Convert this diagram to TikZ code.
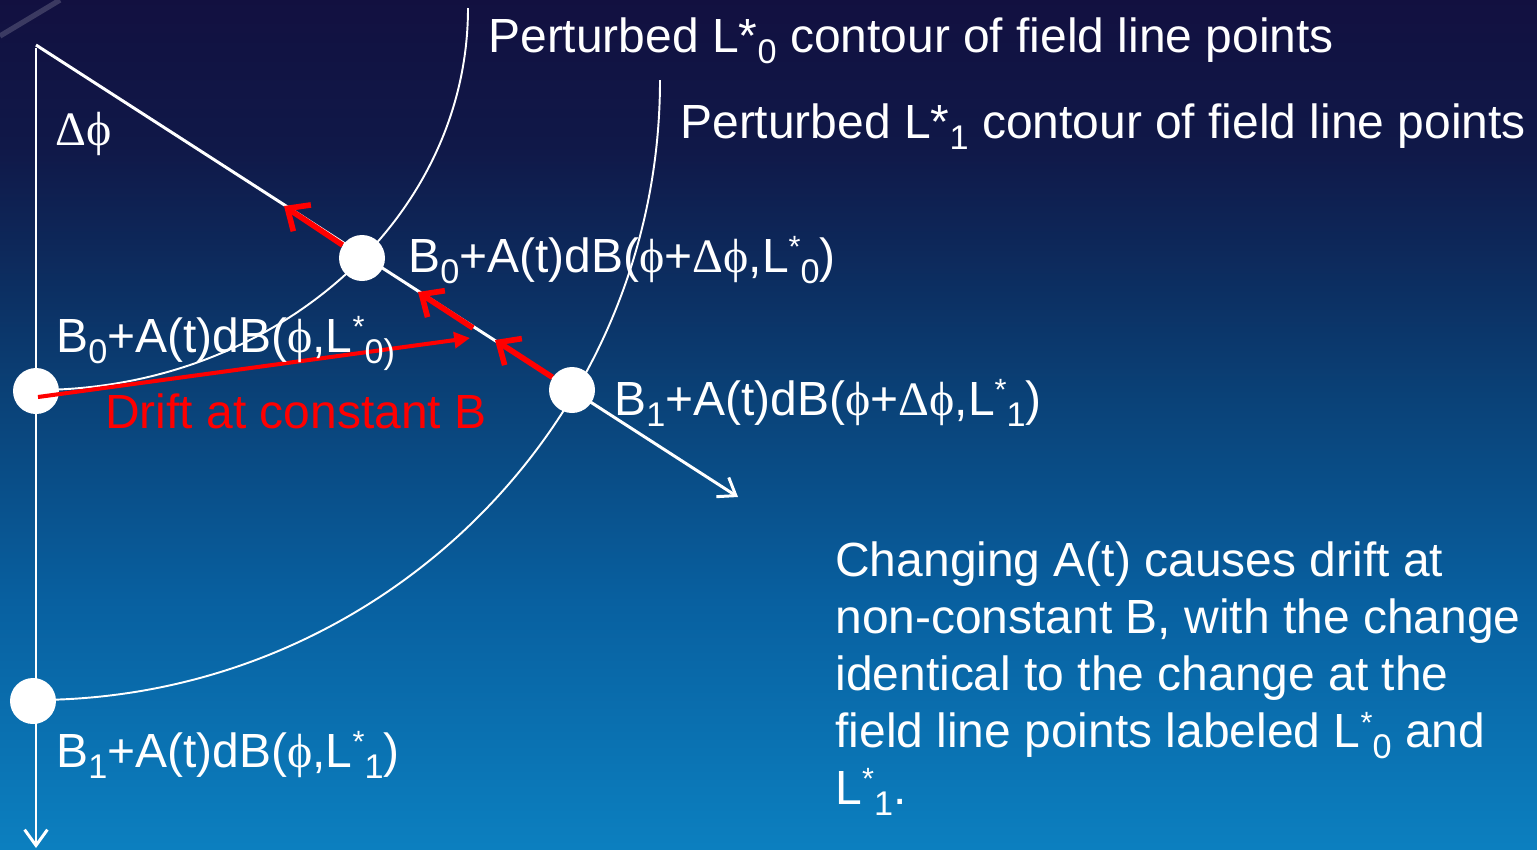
\documentclass[tikz,border=0pt]{standalone}
\usepackage{fontspec}
\setmainfont{Liberation Sans}
\newfontfamily\symfont{Liberation Serif}
\usetikzlibrary{arrows.meta}
\definecolor{bgTop}{RGB}{18,16,64}
\definecolor{bgUpper}{RGB}{16,24,72}
\definecolor{bgMid}{RGB}{13,40,90}
\definecolor{bgLow}{RGB}{10,66,120}
\definecolor{bgLower}{RGB}{8,96,160}
\definecolor{bgBot}{RGB}{12,128,192}
\pgfdeclareverticalshading{slidebg}{100bp}{color(0bp)=(bgBot); color(25bp)=(bgBot); color(39.7bp)=(bgLower); color(51.4bp)=(bgLow); color(60.3bp)=(bgMid); color(66.2bp)=(bgUpper); color(75bp)=(bgTop); color(100bp)=(bgTop)}
\newcommand{\lo}[1]{\raisebox{-6.4pt}{\fontsize{19.5}{19.5}\selectfont #1}}
\newcommand{\hi}[1]{\raisebox{8pt}{\fontsize{17.5}{17.5}\selectfont #1}}
\newcommand{\fphi}{{\symfont ϕ}}
\newcommand{\dphi}{{\symfont Δϕ}}

\begin{document}
\begin{tikzpicture}[
    x=0.02cm, y=-0.02cm,
    axis line/.style={white, line width=1.7pt, -{Straight Barb[length=9pt,width=13pt]}},
    contour/.style={white, line width=1.1pt},
    field pt/.style={circle, fill=white, minimum size=0.92cm, inner sep=0pt},
    shift arrow/.style={red, line width=3.2pt, -{Straight Barb[length=10pt,width=18pt]}},
    drift arrow/.style={red, line width=2.3pt, -{Triangle[length=9pt,width=9pt]}},
    lbl/.style={white, anchor=base west, inner sep=0pt, font=\fontsize{27.3}{32.4}\selectfont}
]
  \useasboundingbox (0,0) rectangle (1537,849);
  \shade[shading=slidebg] (-5,-5) rectangle (1542,854);
  \draw[white!50!bgTop, line width=3pt, opacity=0.35] (0,36) -- (60,0);

  % axes
  \coordinate (top) at (36,45);
  \coordinate (axisend) at (36,848);
  \coordinate (diagend) at (738,497);
  \draw[axis line] (36,48) -- (axisend);
  \draw[axis line] (top) -- (diagend);

  % perturbed contours
  \coordinate (c0top) at (468,8);
  \coordinate (c1top) at (660,80);
  \draw[contour] (c0top) arc[start angle=0, end angle=90, x radius=432, y radius=382];
  \draw[contour] (c1top) arc[start angle=0, end angle=90, x radius=626, y radius=620];

  % field line points
  \node[field pt] (pt0) at (36,391) {};
  \node[field pt] (ptd0) at (362,258) {};
  \node[field pt] (ptd1) at (572,390) {};
  \node[field pt] (pt1) at (33,701) {};

  % drifts
  \coordinate (tipA) at (284,206);
  \coordinate (midB) at (473,328);
  \coordinate (tipB) at (418,292);
  \coordinate (tipC) at (495,340);
  \coordinate (driftstart) at (38,397);
  \coordinate (drifttip) at (470,338);
  \draw[shift arrow] (ptd0) -- (tipA);
  \draw[shift arrow] (midB) -- (tipB);
  \draw[shift arrow] (ptd1) -- (tipC);
  \draw[drift arrow] (driftstart) -- (drifttip);

  % labels
  \node[lbl] (title0) at (488,52) {Perturbed L*\lo{0} contour of field line points};
  \node[lbl] (title1) at (680,138) {Perturbed L*\lo{1} contour of field line points};
  \node[lbl] (angle) at (55,145) {\dphi};
  \node[lbl] (lbd0) at (408,272) {B\lo{0}+A(t)dB(\fphi+\dphi,L\hi{*}\lo{0})};
  \node[lbl] (lb0) at (56,352) {B\lo{0}+A(t)dB(\fphi,L\hi{*}\lo{0)}};
  \node[lbl, text=red] (drift) at (105,428) {Drift at constant B};
  \node[lbl] (lbd1) at (614,415) {B\lo{1}+A(t)dB(\fphi+\dphi,L\hi{*}\lo{1})};
  \node[lbl] (lb1) at (56,767) {B\lo{1}+A(t)dB(\fphi,L\hi{*}\lo{1})};
  \node[lbl, align=left] (note) at (835,804) {Changing A(t) causes drift at\\non-constant B, with the change\\identical to the change at the\\field line points labeled L\hi{*}\lo{0} and\\L\hi{*}\lo{1}.};
\end{tikzpicture}
\end{document}
